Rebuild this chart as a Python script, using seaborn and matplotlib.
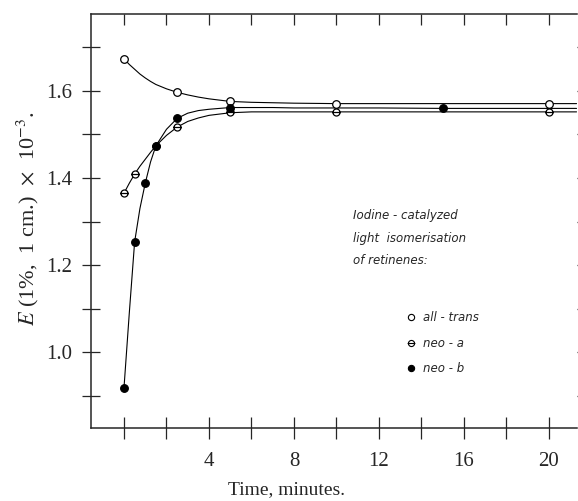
import numpy as np
import pandas as pd
import matplotlib
matplotlib.use("Agg")
import matplotlib.pyplot as plt
import matplotlib.path as mpath
from matplotlib.lines import Line2D
from matplotlib.ticker import FixedLocator, FuncFormatter
import seaborn as sns

# measured points (time in minutes, extinction x 10^-3)
all_trans_t = [0, 2.5, 5, 10, 20]
all_trans_E = [1.674, 1.597, 1.576, 1.571, 1.571]
neo_a_t = [0, 0.5, 1.5, 2.5, 5, 10, 20]
neo_a_E = [1.365, 1.409, 1.474, 1.517, 1.551, 1.552, 1.552]
neo_b_t = [0, 0.5, 1, 1.5, 2.5, 5, 15]
neo_b_E = [0.918, 1.253, 1.388, 1.474, 1.537, 1.562, 1.560]

# drawn curves
curve_t = [0, 0.25, 0.5, 0.75, 1, 1.25, 1.5, 2, 2.5, 3, 3.5, 4, 5, 6, 7, 8, 10, 12, 15, 20, 21.3]
all_trans_curve = [1.674, 1.661, 1.650, 1.639, 1.630, 1.622, 1.615, 1.605, 1.597, 1.591, 1.586,
                   1.582, 1.576, 1.574, 1.573, 1.572, 1.571, 1.571, 1.571, 1.571, 1.571]
neo_a_curve = [1.365, 1.388, 1.409, 1.427, 1.443, 1.459, 1.474, 1.498, 1.517, 1.530, 1.538,
               1.544, 1.550, 1.552, 1.552, 1.552, 1.552, 1.552, 1.552, 1.552, 1.552]
neo_b_curve = [0.918, 1.090, 1.253, 1.330, 1.388, 1.437, 1.474, 1.512, 1.537, 1.549, 1.555,
               1.558, 1.562, 1.562, 1.562, 1.561, 1.561, 1.561, 1.560, 1.560, 1.560]

series_names = ["all - trans", "neo - a", "neo - b"]
header = "Iodine - catalyzed\nlight  isomerisation\nof retinenes:"

sns.set_theme(style="ticks")
plt.rcParams["font.family"] = ["Liberation Serif", "DejaVu Serif"]
plt.rcParams["mathtext.fontset"] = "stix"

curves = pd.DataFrame({
    "t": curve_t * 3,
    "E": all_trans_curve + neo_a_curve + neo_b_curve,
    "series": sum([[n] * len(curve_t) for n in series_names], []),
})

W, H = 578, 501
fig = plt.figure(figsize=(W / 100, H / 100), dpi=100)
ax = fig.add_axes([91 / W, 1 - 428 / H, (577 - 91) / W, (428 - 14) / H])

sns.lineplot(data=curves, x="t", y="E", hue="series", palette=["black"] * 3,
             estimator=None, sort=True, linewidth=0.8, legend=False, ax=ax)

# neo-a marker: circle with a bar through it
circ = mpath.Path.unit_circle()
bar = mpath.Path([[-1.25, 0], [1.25, 0]], [mpath.Path.MOVETO, mpath.Path.LINETO])
theta = mpath.Path.make_compound_path(circ, bar)

sns.scatterplot(x=all_trans_t, y=all_trans_E, marker="o", s=30, facecolor="white",
                edgecolor="black", linewidth=0.9, zorder=3, ax=ax)
sns.scatterplot(x=neo_a_t, y=neo_a_E, marker=theta, s=40, facecolor="white",
                edgecolor="black", linewidth=0.9, zorder=3, ax=ax)
sns.scatterplot(x=neo_b_t, y=neo_b_E, marker="o", s=30, color="black",
                edgecolor="black", linewidth=0.9, zorder=4, ax=ax)

ax.set_xlim(-1.553, 21.32)
ax.set_ylim(0.8253, 1.777)

ax.xaxis.set_major_locator(FixedLocator(np.arange(0, 22, 2)))
ax.xaxis.set_major_formatter(FuncFormatter(lambda v, p: "%d" % v if v > 0 and v % 4 == 0 else ""))
ax.yaxis.set_major_locator(FixedLocator(np.arange(0.9, 1.75, 0.1)))
ax.yaxis.set_major_formatter(FuncFormatter(lambda v, p: "%.1f" % v if round(v * 10) % 2 == 0 else ""))

ax.tick_params(axis="x", which="major", direction="inout", length=16, width=0.9,
               labelsize=15, pad=9, top=True, labeltop=False)
ax.tick_params(axis="y", which="major", direction="inout", length=13, width=0.9,
               labelsize=15, pad=7, right=True, labelright=False)
for t in ax.xaxis.get_major_ticks():
    t.tick2line.set_markersize(8)
    t.tick2line.set_marker(3)
for t in ax.yaxis.get_major_ticks():
    t.tick2line.set_markersize(8)
    t.tick2line.set_marker(1)

for s in ["left", "bottom", "top"]:
    ax.spines[s].set_linewidth(1.1)
ax.spines["right"].set_visible(False)

ax.set_xlabel("")
ax.set_ylabel("")
fig.text(287 / W, 1 - 490 / H, "Time, minutes.", ha="center", va="center", fontsize=14)
fig.text(28 / W, 1 - 219 / H, r"$E$ (1%,  1 cm.)  $\times$  10$^{-3}$.", rotation=90,
         ha="center", va="center", fontsize=16)

ax.text(10.78, 1.328, header, ha="left", va="top", fontsize=8.5, style="italic",
        family="DejaVu Sans", linespacing=1.95)

handles = [
    Line2D([], [], ls="none", marker="o", ms=4.5, mfc="white", mec="black", mew=0.8),
    Line2D([], [], ls="none", marker=theta, ms=5.5, mfc="white", mec="black", mew=0.8),
    Line2D([], [], ls="none", marker="o", ms=4.5, mfc="black", mec="black", mew=0.8),
]
leg = ax.legend(handles, series_names, loc="upper left", bbox_to_anchor=(12.95, 1.107),
                bbox_transform=ax.transData, frameon=False, borderpad=0, handlelength=1.0,
                handletextpad=0.5, labelspacing=1.05,
                prop={"family": "DejaVu Sans", "style": "italic", "size": 8.5})

fig.savefig("out.png", dpi=100)
